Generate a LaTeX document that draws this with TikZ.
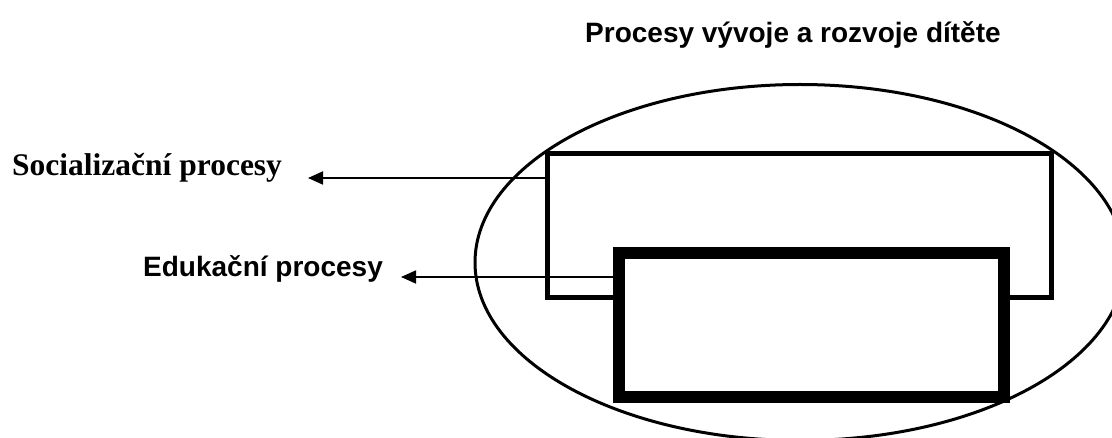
\documentclass[tikz,border=0pt]{standalone}
\usepackage{fontspec}
\setmainfont{Liberation Serif}
\newfontfamily\sansbold{Liberation Sans}
\usetikzlibrary{arrows.meta,shapes.geometric,backgrounds}

\tikzset{
  region/.style={draw, ellipse, line width=3pt, inner sep=0pt, outer sep=0pt},
  socbox/.style={draw, rectangle, line width=5pt, inner sep=0pt, outer sep=0pt},
  edubox/.style={draw, rectangle, line width=12pt, fill=white, inner sep=0pt, outer sep=0pt},
  pointer/.style={line width=1.8pt, -{Triangle[length=15pt,width=13pt]}},
  serifhead/.style={inner sep=0pt, anchor=base west, font=\fontsize{31.5}{36}\selectfont\bfseries},
  sanshead/.style={inner sep=0pt, anchor=base west, font=\sansbold\fontsize{28}{32}\selectfont\bfseries},
}

\begin{document}
\begin{tikzpicture}[x=1pt, y=-1pt]
  \useasboundingbox (0,0) rectangle (1112,438);
  \clip (0,0) rectangle (1112,438);

  % heading
  \node[sanshead] (title) at (585,43) {Procesy vývoje a rozvoje dítěte};

  % the whole field of development
  \node[region, minimum width=650pt, minimum height=356pt] (field) at (800,262.5) {};

  % labels on the left
  \node[serifhead] (soclabel) at (12,176) {Socializační procesy};
  \node[sanshead] (edulabel) at (143,277) {Edukační procesy};

  % arrow end points
  \coordinate (socend) at (308,178);
  \coordinate (eduend) at (401,277);

  % socialisation frame
  \node[socbox, minimum width=503.5pt, minimum height=144pt] (soc) at (799.25,226) {};

  % education frame, lying over the lower part of the socialisation frame
  \node[edubox, minimum width=384.5pt, minimum height=144pt] (edu) at (811.25,325.5) {};

  % pointers from the frames to their labels, kept behind the frames
  \begin{pgfonlayer}{background}
    \draw[pointer] (soc.west |- socend) -- (socend);
    \draw[pointer] (edu.west |- eduend) -- (eduend);
  \end{pgfonlayer}
\end{tikzpicture}
\end{document}
